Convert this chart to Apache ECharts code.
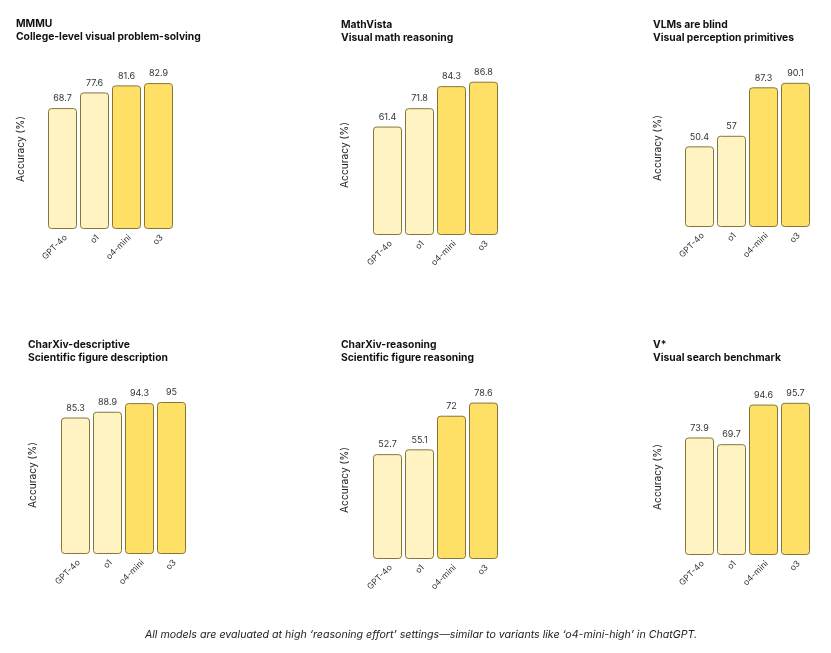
<!DOCTYPE html>
<html><head><meta charset="utf-8">
<script src="https://cdn.jsdelivr.net/npm/echarts@6/dist/echarts.min.js"></script>
<style>html,body{margin:0;padding:0;background:#fff}#c{width:831px;height:653px}</style>
</head><body><div id="c"></div>
<script>
const models = ['GPT-4o', 'o1', 'o4-mini', 'o3'];
const benchNames = ['MMMU', 'MathVista', 'VLMs are blind', 'CharXiv-descriptive', 'CharXiv-reasoning', 'V*'];
const benchSubtitles = ['College-level visual problem-solving', 'Visual math reasoning', 'Visual perception primitives', 'Scientific figure description', 'Scientific figure reasoning', 'Visual search benchmark'];
const mmmu = [68.7, 77.6, 81.6, 82.9];
const mathvista = [61.4, 71.8, 84.3, 86.8];
const vlmsBlind = [50.4, 57, 87.3, 90.1];
const charxivDesc = [85.3, 88.9, 94.3, 95];
const charxivReason = [52.7, 55.1, 72, 78.6];
const vStar = [73.9, 69.7, 94.6, 95.7];
const allValues = [mmmu, mathvista, vlmsBlind, charxivDesc, charxivReason, vStar];
const yLabel = 'Accuracy (%)';
const footnote = 'All models are evaluated at high \u2018reasoning effort\u2019 settings\u2014similar to variants like \u2018o4-mini-high\u2019 in ChatGPT.';

const FONT = 'Inter, "Noto Sans", sans-serif';
const LIGHT = '#FFF3C4', DARK = '#FFE066', BORDER = '#857638';
const grids = [
  {left: 46.5, top: 53, width: 128, height: 176},
  {left: 371.5, top: 58.4, width: 128, height: 176.6},
  {left: 683.5, top: 67, width: 128, height: 160},
  {left: 59.5, top: 394, width: 128, height: 160},
  {left: 371.5, top: 360, width: 128, height: 199},
  {left: 683.5, top: 396, width: 128, height: 159}
];
const titlePos = [[16, 17.5], [341, 18.5], [653, 18.5], [28, 338.5], [341, 338.5], [653, 338.5]];
const yLabelPos = [[21, 149], [345, 155], [658, 148], [33, 475], [345, 480], [658, 477]];

const option = {
  backgroundColor: '#fff',
  animation: false,
  title: benchNames.map((n, i) => ({
    text: n + '\n' + benchSubtitles[i],
    left: titlePos[i][0], top: titlePos[i][1], padding: 0,
    textStyle: {fontFamily: FONT, fontSize: 10.3, fontWeight: 'bold', color: '#111', lineHeight: 13}
  })),
  grid: grids.map(g => Object.assign({containLabel: false}, g)),
  xAxis: grids.map((g, i) => ({
    type: 'category', gridIndex: i, data: models,
    axisLine: {show: false}, axisTick: {show: false},
    axisLabel: {rotate: 45, margin: 4, verticalAlign: 'top', fontFamily: FONT, fontSize: 8.5, color: '#333', interval: 0}
  })),
  yAxis: grids.map((g, i) => ({
    type: 'value', gridIndex: i, min: 0, max: 100, show: false
  })),
  series: allValues.map((vals, i) => ({
    type: 'bar', xAxisIndex: i, yAxisIndex: i, barWidth: 29,
    data: vals.map((v, j) => ({value: v, itemStyle: {color: j < 2 ? LIGHT : DARK}})),
    itemStyle: {borderColor: BORDER, borderWidth: 1, borderRadius: 3},
    label: {show: true, position: 'top', distance: 5, fontFamily: FONT, fontSize: 9, color: '#333'}
  })),
  graphic: yLabelPos.map(p => ({
    type: 'text', x: p[0], y: p[1], rotation: Math.PI / 2,
    style: {text: yLabel, fontFamily: FONT, fontSize: 10.2, fill: '#222', align: 'center', verticalAlign: 'middle'}
  })).concat([{
    type: 'text', x: 421, y: 635,
    style: {text: footnote, fontFamily: FONT, fontSize: 10.65, fontStyle: 'italic', fill: '#222', align: 'center', verticalAlign: 'middle'}
  }])
};
const chart = echarts.init(document.getElementById('c'), null, {renderer: 'canvas'});
chart.setOption(option);
</script></body></html>
